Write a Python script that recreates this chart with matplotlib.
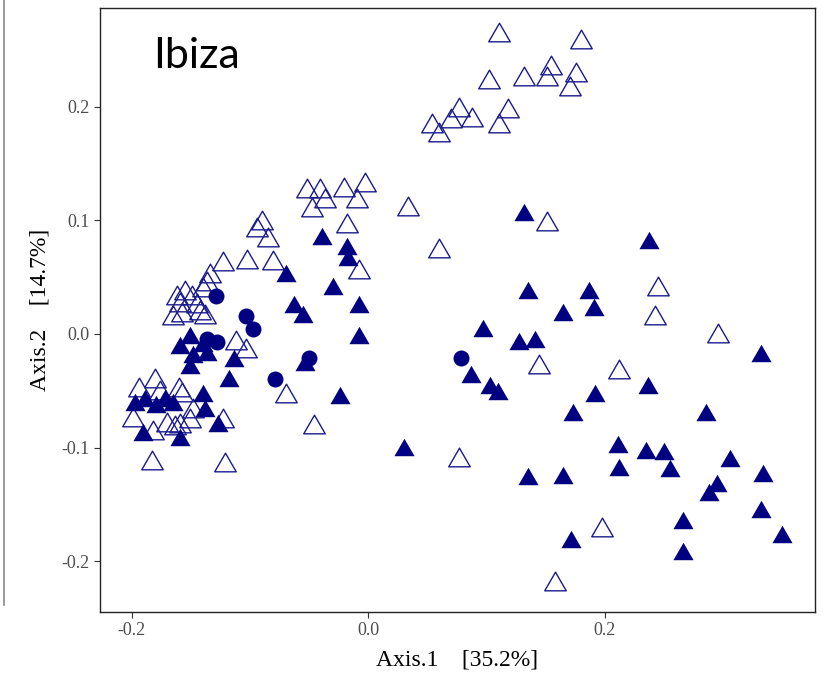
import numpy as np
import matplotlib.pyplot as plt
from matplotlib.lines import Line2D
from matplotlib.path import Path

# PCoA coordinates
open_x = [0.111, 0.180, 0.155, 0.151, 0.132, 0.176, 0.171, 0.102, 0.077, 0.118,
          0.088, 0.054, 0.070, 0.111, 0.060, 0.034, 0.151, 0.060, 0.245, 0.243,
          0.296, 0.145, 0.212, 0.077, 0.198, 0.158,
          -0.052, -0.041, -0.036, -0.047, -0.020, -0.003, -0.009, -0.018, -0.090, -0.094,
          -0.085, -0.123, -0.102, -0.080, -0.008, -0.112, -0.103, -0.069, -0.046,
          -0.134, -0.136, -0.140, -0.155, -0.162, -0.149, -0.159, -0.145, -0.142, -0.165,
          -0.157, -0.138, -0.180, -0.194, -0.160, -0.176, -0.157, -0.199, -0.182, -0.170,
          -0.159, -0.151, -0.163, -0.123, -0.148, -0.183, -0.121]
open_y = [0.266, 0.259, 0.237, 0.227, 0.227, 0.230, 0.218, 0.224, 0.200, 0.199,
          0.191, 0.186, 0.190, 0.186, 0.178, 0.113, 0.099, 0.076, 0.042, 0.017,
          0.001, -0.026, -0.031, -0.108, -0.170, -0.217,
          0.128, 0.128, 0.120, 0.112, 0.129, 0.134, 0.120, 0.098, 0.100, 0.094,
          0.085, 0.064, 0.066, 0.065, 0.057, -0.005, -0.012, -0.052, -0.079,
          0.054, 0.047, 0.041, 0.039, 0.034, 0.034, 0.028, 0.027, 0.021, 0.017,
          0.019, 0.018, -0.039, -0.047, -0.047, -0.049, -0.051, -0.073, -0.084, -0.077,
          -0.078, -0.074, -0.080, -0.074, -0.065, -0.111, -0.113]

filled_x = [-0.151, -0.197, -0.189, -0.179, -0.172, -0.165, -0.140, -0.138, -0.118, -0.127,
            -0.190, -0.159, -0.151, -0.159, -0.140, -0.148, -0.136, -0.113, -0.069, -0.039,
            -0.018, -0.017, -0.030, -0.063, -0.055, -0.008, -0.008, -0.053, -0.024, 0.030,
            0.132, 0.238, 0.135, 0.187, 0.191, 0.165, 0.097, 0.128, 0.141, 0.087,
            0.103, 0.110, 0.192, 0.173, 0.237, 0.332, 0.286, 0.211, 0.235, 0.250,
            0.212, 0.255, 0.165, 0.135, 0.306, 0.334, 0.295, 0.288, 0.332, 0.266,
            0.350, 0.172, 0.266]
filled_y = [-0.027, -0.060, -0.056, -0.062, -0.056, -0.060, -0.052, -0.065, -0.039, -0.078,
            -0.086, -0.091, -0.001, -0.010, -0.008, -0.018, -0.016, -0.021, 0.054, 0.086,
            0.077, 0.068, 0.042, 0.026, 0.018, 0.026, -0.001, -0.025, -0.054, -0.099,
            0.107, 0.083, 0.039, 0.039, 0.024, 0.019, 0.005, -0.006, -0.004, -0.035,
            -0.045, -0.050, -0.052, -0.069, -0.045, -0.017, -0.069, -0.097, -0.102, -0.103,
            -0.117, -0.118, -0.124, -0.125, -0.109, -0.122, -0.131, -0.139, -0.154, -0.164,
            -0.176, -0.180, -0.191]

circle_x = [-0.129, -0.103, -0.097, -0.136, -0.128, -0.079, -0.050, 0.079]
circle_y = [0.033, 0.016, 0.004, -0.004, -0.007, -0.040, -0.021, -0.021]

xticks = [-0.2, 0.0, 0.2]
yticks = [-0.2, -0.1, 0.0, 0.1, 0.2]

navy = '#000080'
# equilateral triangle, closed so the outline version draws all three sides
tri = Path([(0, 0.866), (-1, -0.866), (1, -0.866), (0, 0.866)],
           [Path.MOVETO, Path.LINETO, Path.LINETO, Path.CLOSEPOLY])
serif = 'Liberation Serif'

fig = plt.figure(figsize=(8.26, 6.73), dpi=100)
ax = fig.add_axes([100 / 826, 1 - 612 / 673, 715 / 826, 604 / 673])

ax.plot(open_x, open_y, linestyle='none', marker=tri, markersize=15.5,
        markerfacecolor='none', markeredgecolor='#1a1a8c', markeredgewidth=1.0)
ax.plot(filled_x, filled_y, linestyle='none', marker=tri, markersize=14.5,
        color=navy, markeredgewidth=0)
ax.plot(circle_x, circle_y, linestyle='none', marker='o', markersize=11.5,
        color=navy, markeredgewidth=0)

ax.set_xlim(-0.2267, 0.378)
ax.set_ylim(-0.2445, 0.2867)
ax.set_xticks(xticks)
ax.set_xticklabels([f'{v:.1f}' for v in xticks])
ax.set_yticks(yticks)
ax.set_yticklabels([f'{v:.1f}' for v in yticks])
ax.tick_params(length=4, width=0.8, color='#333333', labelcolor='#4D4D4D',
               labelsize=13)
for lab in ax.get_xticklabels() + ax.get_yticklabels():
    lab.set_family(serif)
for sp in ax.spines.values():
    sp.set_linewidth(1.0)
    sp.set_color('#222222')

ax.set_xlabel('Axis.1    [35.2%]', fontsize=17, family=serif, labelpad=7)
ax.set_ylabel('Axis.2    [14.7%]', fontsize=17, family=serif, labelpad=8)

fig.text(153 / 826, 1 - 68 / 673, 'Ibiza', fontsize=31, family='Lato',
         va='baseline', ha='left')

# thin grey border line at the left edge of the picture
fig.add_artist(Line2D([3.5 / 826, 3.5 / 826], [1, 1 - 605 / 673],
                      color='#888888', linewidth=1.2, transform=fig.transFigure))

fig.savefig('out.png', dpi=100)
